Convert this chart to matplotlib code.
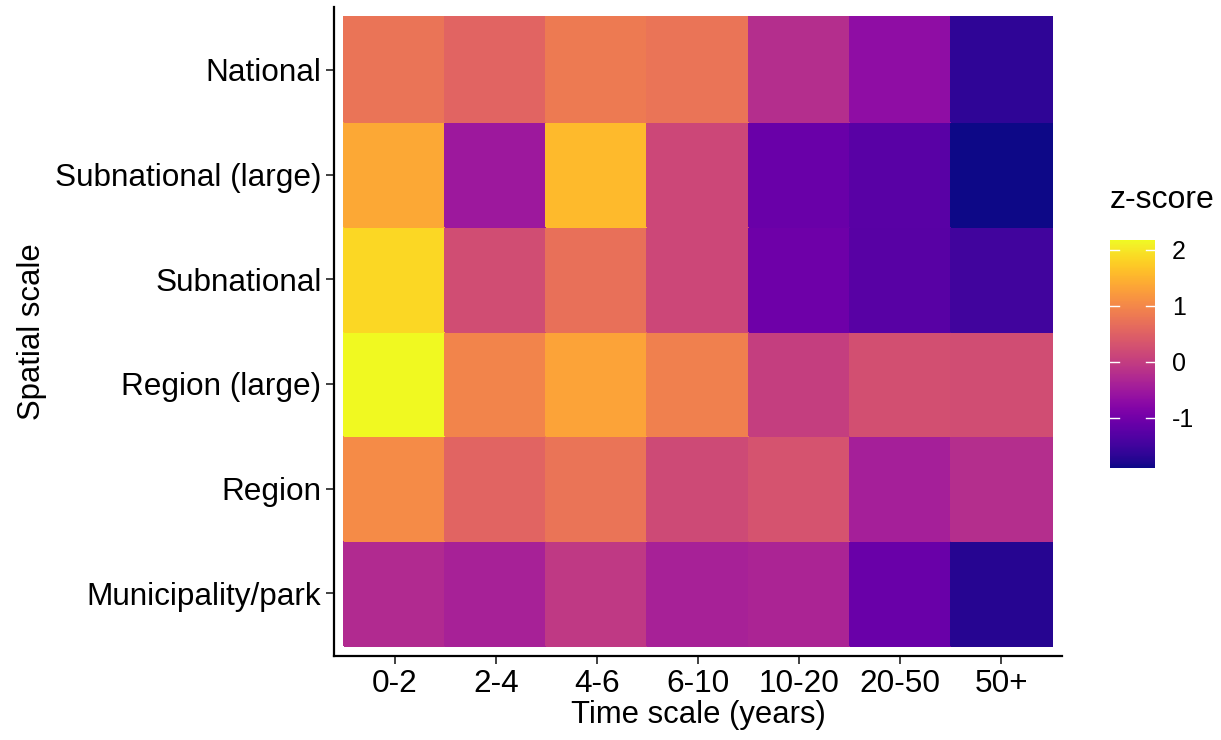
import numpy as np
import matplotlib
matplotlib.use('Agg')
import matplotlib.pyplot as plt

plt.rcParams['font.family'] = ['Liberation Sans', 'DejaVu Sans']
plt.rcParams['axes.unicode_minus'] = False

# ------------------------------------------------------------------------------
# data (z-scores), rows listed top to bottom

time_scales = ['0-2', '2-4', '4-6', '6-10', '10-20', '20-50', '50+']
spatial_scales = ['National', 'Subnational (large)', 'Subnational',
                  'Region (large)', 'Region', 'Municipality/park']

national = [0.75, 0.54, 0.83, 0.75, -0.23, -0.68, -1.66]
subnational_large = [1.36, -0.52, 1.56, 0.14, -1.09, -1.25, -1.90]
subnational = [1.84, 0.22, 0.70, 0.14, -1.05, -1.27, -1.49]
region_large = [2.17, 0.95, 1.32, 0.91, 0.01, 0.26, 0.22]
region = [1.03, 0.54, 0.75, 0.18, 0.30, -0.43, -0.23]
municipality = [-0.27, -0.39, -0.07, -0.39, -0.35, -1.09, -1.74]

cb_ticks = [-1, 0, 1, 2]

# ------------------------------------------------------------------------------

z = np.array([national, subnational_large, subnational,
              region_large, region, municipality])[::-1]
rows = spatial_scales[::-1]
vmin, vmax = z.min(), z.max()

fig = plt.figure(figsize=(12.21, 7.40), dpi=100)
ax = fig.add_axes([0.2735, 0.1135, 0.5963, 0.877])

xe = np.arange(len(time_scales) + 1) + 0.5
ye = np.arange(len(rows) + 1) + 0.5
mesh = ax.pcolormesh(xe, ye, z, cmap='plasma', vmin=vmin, vmax=vmax,
                     edgecolors='face', linewidth=0.3)

ax.set_xlim(0.4, len(time_scales) + 0.6)
ax.set_ylim(0.4, len(rows) + 0.6)
ax.set_xticks(np.arange(1, len(time_scales) + 1))
ax.set_xticklabels(time_scales)
ax.set_yticks(np.arange(1, len(rows) + 1))
ax.set_yticklabels(rows)
ax.tick_params(labelsize=22.7, length=6, width=1.3, color='#333333',
               labelcolor='black', pad=3)
for side in ['top', 'right']:
    ax.spines[side].set_visible(False)
for side in ['left', 'bottom']:
    ax.spines[side].set_linewidth(1.6)
ax.set_xlabel('Time scale (years)', fontsize=22.3, labelpad=1)
ax.set_ylabel('Spatial scale', fontsize=22.3, labelpad=6)

# colorbar in ggplot style
cax = fig.add_axes([0.9091, 0.3676, 0.0369, 0.3081])
cb = fig.colorbar(mesh, cax=cax)
cb.outline.set_visible(False)
cb.set_ticks(cb_ticks)
cb.ax.tick_params(length=0, labelsize=18, pad=12)
for t in cb_ticks:
    cax.axhline(t, xmin=0, xmax=0.2, color='white', lw=1)
    cax.axhline(t, xmin=0.8, xmax=1, color='white', lw=1)
fig.text(0.9091, 0.71, 'z-score', fontsize=23, ha='left', va='bottom')

fig.savefig('out.png', dpi=100)
